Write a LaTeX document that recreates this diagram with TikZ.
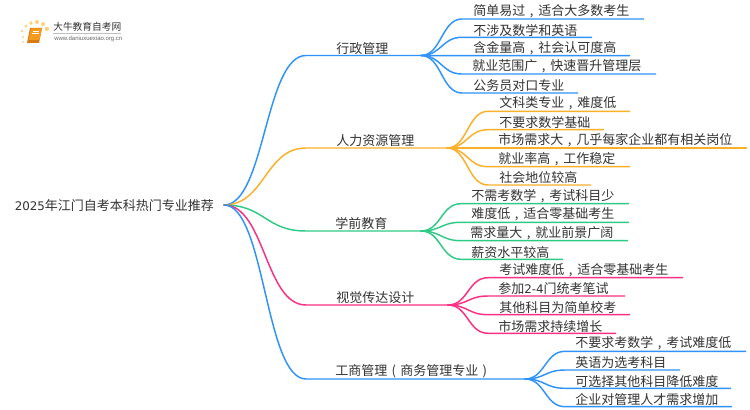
\documentclass[tikz,border=0pt]{standalone}
\usepackage{fontspec}
\usetikzlibrary{calc}
\setmainfont{Noto Sans CJK SC}
\newfontfamily\latinfont{Liberation Sans}
\newfontfamily\digitfont{DejaVu Sans}
\definecolor{cblue}{HTML}{2F93FB}
\definecolor{corange}{HTML}{FBB02A}
\definecolor{cgreen}{HTML}{2FCB86}
\definecolor{cpink}{HTML}{FB2F83}
\definecolor{ctext}{HTML}{333333}
\definecolor{cbook}{HTML}{F59B1E}
\definecolor{cbookdark}{HTML}{D97A10}
\definecolor{cdot}{HTML}{FBD27A}
\newcommand{\cma}{\makebox[9.75pt][c]{,}}
\newcommand{\lpar}{\makebox[9.75pt][c]{(}}
\newcommand{\rpar}{\makebox[9.75pt][c]{)}}
\newcommand{\dgt}[1]{{\digitfont\fontsize{8.9pt}{12pt}\selectfont #1}}
\tikzset{
  wire/.style={line width=1.1pt,line cap=round},
  item/.style={inner sep=0pt,inner ysep=0.7pt,anchor=south west,align=left,
    font=\fontsize{9.75pt}{12pt}\selectfont,text=ctext},
  root/.style={item,anchor=west,inner ysep=0pt},
}
% name, parent junction, colour, line start x, text start x, line end x, y, text
\newcommand{\entry}[8]{%
  \pgfmathsetmacro{\tw}{(#6-#5+1)*0.75}%
  \pgfmathsetmacro{\tx}{#5-1}%
  \coordinate (#1s) at (#4,#7);
  \node[item,text width=\tw pt] (#1) at (\tx,#7) {#8};
  \coordinate (#1m) at ($(#2)!.5!(#1s)$);
  \draw[wire,#3] (#2) .. controls (#1m |- #2) and (#1m |- #1s) .. (#1s) -- (#1.south east);
}
\begin{document}
\begin{tikzpicture}[x=0.75pt,y=-0.75pt]
\useasboundingbox[fill=white] (0,0) rectangle (750,410);
% logo
\foreach \px/\py/\r in {23/42/1,23/37/1.2,22/31/1.4,26/26/1.7,31/23/1.9,37/22/2,43/24/2,47/29/2.2}
  \fill[cdot] (\px,\py) circle[radius=\r];
\fill[cbookdark] (30,28) -- (42,28) -- (39,43) -- (27,43) -- cycle;
\fill[cbook] (31,28.5) -- (42,28.5) -- (39.5,40) -- (28.5,40) -- cycle;
\draw[white,line width=.3pt] (32.5,31) -- (39,31) (32,33) -- (38.5,33);
\node[inner sep=0pt,anchor=west,text=ctext,font=\fontsize{7.3pt}{9pt}\selectfont] (logotext) at (53,27) {大牛教育自考网};
\draw[black!25,line width=.4pt] (53,33.2) -- (121,33.2);
\node[inner sep=0pt,anchor=west,text=black!60,font=\latinfont\fontsize{4.5pt}{5pt}\selectfont] (logourl) at (54,39) {www.daniuxuexiao.org.cn};
% root
\node[root] (rootnode) at (14.5,206) {\dgt{2025}年江门自考本科热门专业推荐};
\coordinate (rj) at (224,205);
% branches
\entry{a}{rj}{cblue}{306}{337}{421}{55.5}{行政管理}
\entry{b}{rj}{corange}{306}{337}{447}{148}{人力资源管理}
\entry{c}{rj}{cgreen}{306}{336}{421}{231}{学前教育}
\entry{d}{rj}{cpink}{306}{337}{448}{305}{视觉传达设计}
\entry{e}{rj}{cblue}{306}{336}{525}{379}{工商管理\lpar 商务管理专业\rpar}
\coordinate (aj) at (421,55.5);
\coordinate (bj) at (447,148);
\coordinate (cj) at (421,231);
\coordinate (dj) at (448,305);
\coordinate (ej) at (525,379);
% leaves
\entry{a1}{aj}{cblue}{462}{474}{643}{19}{简单易过\cma 适合大多数考生}
\entry{a2}{aj}{cblue}{462}{474}{591}{37.3}{不涉及数学和英语}
\entry{a3}{aj}{cblue}{462}{474}{629}{55.7}{含金量高\cma 社会认可度高}
\entry{a4}{aj}{cblue}{462}{473}{655}{74}{就业范围广\cma 快速晋升管理层}
\entry{a5}{aj}{cblue}{462}{474}{577}{93}{公务员对口专业}
\entry{b1}{bj}{corange}{488}{500}{629}{111.3}{文科类专业\cma 难度低}
\entry{b2}{bj}{corange}{488}{500}{603}{129.7}{不要求数学基础}
\entry{b3}{bj}{corange}{488}{499}{746}{148}{市场需求大\cma 几乎每家企业都有相关岗位}
\entry{b4}{bj}{corange}{488}{499}{629}{166.7}{就业率高\cma 工作稳定}
\entry{b5}{bj}{corange}{488}{500}{590}{185}{社会地位较高}
\entry{c1}{cj}{cgreen}{461}{472}{628}{203.7}{不需考数学\cma 考试科目少}
\entry{c2}{cj}{cgreen}{461}{472}{628}{222.3}{难度低\cma 适合零基础考生}
\entry{c3}{cj}{cgreen}{461}{471}{627}{240.7}{需求量大\cma 就业前景广阔}
\entry{c4}{cj}{cgreen}{461}{472}{562}{259.3}{薪资水平较高}
\entry{d1}{dj}{cpink}{488}{500}{682}{277.7}{考试难度低\cma 适合零基础考生}
\entry{d2}{dj}{cpink}{488}{499}{624}{296}{参加\dgt{2-4}门统考笔试}
\entry{d3}{dj}{cpink}{488}{500}{629}{314.7}{其他科目为简单校考}
\entry{d4}{dj}{cpink}{488}{499}{615}{333.3}{市场需求持续增长}
\entry{e1}{ej}{cblue}{565}{576}{745}{351.3}{不要求考数学\cma 考试难度低}
\entry{e2}{ej}{cblue}{565}{576}{679}{370}{英语为选考科目}
\entry{e3}{ej}{cblue}{565}{576}{730}{388.3}{可选择其他科目降低难度}
\entry{e4}{ej}{cblue}{565}{576}{731}{406.7}{企业对管理人才需求增加}
\end{tikzpicture}
\end{document}
